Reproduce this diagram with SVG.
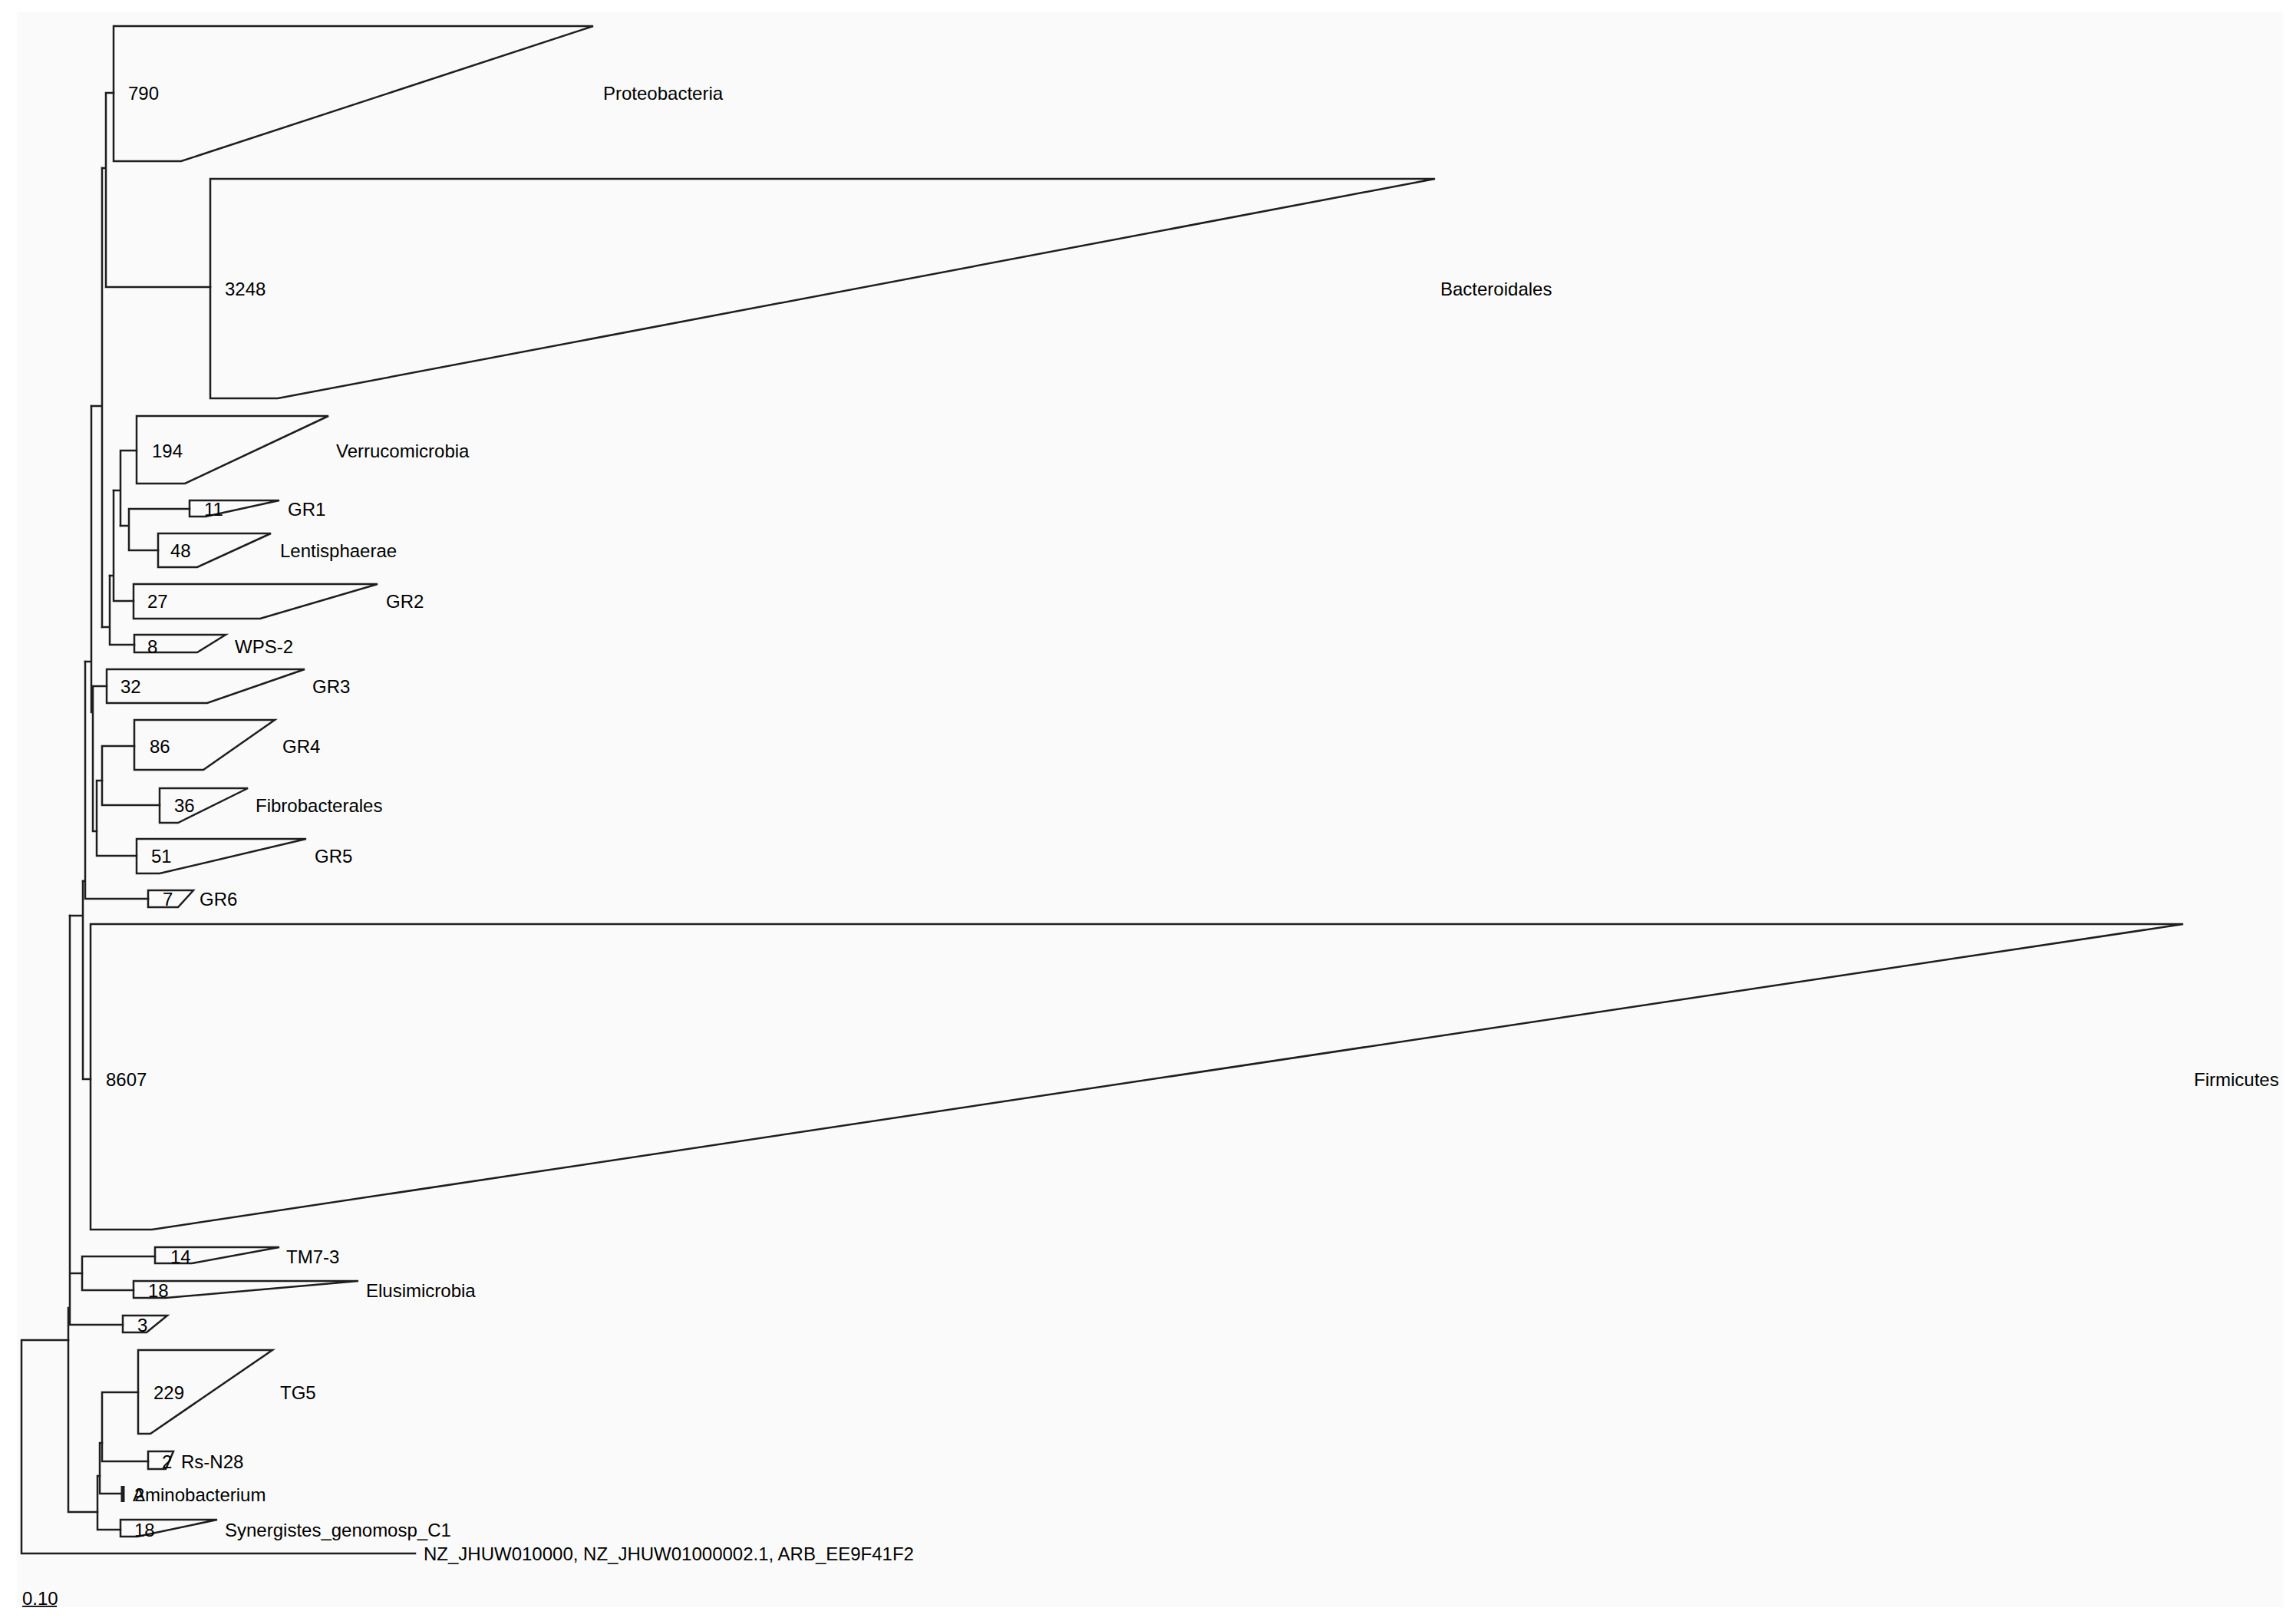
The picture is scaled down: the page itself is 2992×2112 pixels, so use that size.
<svg xmlns="http://www.w3.org/2000/svg" width="2992" height="2112" viewBox="0 0 2992 2112">
<style>
.bg{fill:#fafafa}
.ln{fill:none;stroke:#1e1e1e;stroke-width:2.5;stroke-linecap:square}
.cl{fill:none;stroke:#1e1e1e;stroke-width:2.5;stroke-linejoin:miter}
text{font-family:"Liberation Sans",Arial,Helvetica,sans-serif;font-size:24px;fill:#000}
</style>
<rect x="0" y="0" width="2992" height="2112" fill="#ffffff"/>
<rect class="bg" x="22" y="16" width="2953" height="2078"/>
<g id="connectors">
<path class="ln" d="M28,1746 V2024 M28,1746 H89 M28,2024 H541"/>
<path class="ln" d="M89,1704 V1970 M89,1970 H127"/>
<path class="ln" d="M91,1193 V1726 M91,1726 H160 M91,1659 H107"/>
<path class="ln" d="M107,1637 V1681 M107,1637 H202 M107,1681 H174"/>
<path class="ln" d="M91,1193 H108 M108,1148 V1406 M108,1406 H118"/>
<path class="ln" d="M108,1148 H111 M111,862 V1171 M111,1171 H193"/>
<path class="ln" d="M111,862 H119 M119,529 V928"/>
<path class="ln" d="M121,894 V1083 M121,894 H139 M121,1083 H126"/>
<path class="ln" d="M126,1017 V1115 M126,1115 H178 M126,1017 H133"/>
<path class="ln" d="M133,972 V1049 M133,972 H175 M133,1049 H208"/>
<path class="ln" d="M119,529 H133 M133,219 V817"/>
<path class="ln" d="M133,219 H138 M138,121 V374 M138,121 H148 M138,374 H274"/>
<path class="ln" d="M133,817 H143 M143,750 V840 M143,840 H175"/>
<path class="ln" d="M143,750 H148 M148,639 V783 M148,783 H174"/>
<path class="ln" d="M148,639 H157 M157,587 V685 M157,587 H178"/>
<path class="ln" d="M157,685 H168 M168,663 V717 M168,663 H247 M168,717 H206"/>
<path class="ln" d="M127,1923 V1993 M127,1993 H157 M127,1923 H130"/>
<path class="ln" d="M130,1880 V1946 M130,1946 H160 M130,1880 H133"/>
<path class="ln" d="M133,1814 V1904 M133,1814 H180 M133,1904 H193"/>
</g>
<g id="proteobacteria">
<polygon class="cl" points="148,34 773,34 236,210 148,210"/>
<text x="167" y="130">790</text>
<text x="786" y="130">Proteobacteria</text>
</g>
<g id="bacteroidales">
<polygon class="cl" points="274,233 1870,233 362,519 274,519"/>
<text x="293" y="385">3248</text>
<text x="1877" y="385">Bacteroidales</text>
</g>
<g id="verrucomicrobia">
<polygon class="cl" points="178,542 428,542 241,630 178,630"/>
<text x="198" y="596">194</text>
<text x="438" y="596">Verrucomicrobia</text>
</g>
<g id="gr1">
<polygon class="cl" points="247,652 364,652 268,673 247,673"/>
<text x="266" y="672">11</text>
<text x="375" y="672">GR1</text>
</g>
<g id="lentisphaerae">
<polygon class="cl" points="206,695 353,695 257,739 206,739"/>
<text x="222" y="726">48</text>
<text x="365" y="726">Lentisphaerae</text>
</g>
<g id="gr2">
<polygon class="cl" points="174,761 492,761 339,806 174,806"/>
<text x="192" y="792">27</text>
<text x="503" y="792">GR2</text>
</g>
<g id="wps2">
<polygon class="cl" points="175,827 294,827 257,850 175,850"/>
<text x="192" y="851">8</text>
<text x="306" y="851">WPS-2</text>
</g>
<g id="gr3">
<polygon class="cl" points="139,872 397,872 270,916 139,916"/>
<text x="157" y="903">32</text>
<text x="407" y="903">GR3</text>
</g>
<g id="gr4">
<polygon class="cl" points="175,938 358,938 265,1003 175,1003"/>
<text x="195" y="981">86</text>
<text x="368" y="981">GR4</text>
</g>
<g id="fibrobacterales">
<polygon class="cl" points="208,1027 323,1027 232,1072 208,1072"/>
<text x="227" y="1058">36</text>
<text x="333" y="1058">Fibrobacterales</text>
</g>
<g id="gr5">
<polygon class="cl" points="178,1093 399,1093 208,1138 178,1138"/>
<text x="197" y="1124">51</text>
<text x="410" y="1124">GR5</text>
</g>
<g id="gr6">
<polygon class="cl" points="193,1160 252,1160 232,1182 193,1182"/>
<text x="212" y="1180">7</text>
<text x="260" y="1180">GR6</text>
</g>
<g id="firmicutes">
<polygon class="cl" points="118,1204 2845,1204 198,1602 118,1602"/>
<text x="138" y="1415">8607</text>
<text x="2859" y="1415">Firmicutes</text>
</g>
<g id="tm7-3">
<polygon class="cl" points="202,1625 364,1625 250,1646 202,1646"/>
<text x="222" y="1646">14</text>
<text x="373" y="1646">TM7-3</text>
</g>
<g id="elusimicrobia">
<polygon class="cl" points="174,1669 467,1669 216,1691 174,1691"/>
<text x="193" y="1690">18</text>
<text x="477" y="1690">Elusimicrobia</text>
</g>
<g id="clade3">
<polygon class="cl" points="160,1714 218,1714 191,1736 160,1736"/>
<text x="179" y="1735">3</text>
</g>
<g id="tg5">
<polygon class="cl" points="180,1759 355,1759 196,1868 180,1868"/>
<text x="200" y="1823">229</text>
<text x="365" y="1823">TG5</text>
</g>
<g id="rs-n28">
<polygon class="cl" points="193,1891 226,1891 216,1914 193,1914"/>
<text x="211" y="1913">2</text>
<text x="236" y="1913">Rs-N28</text>
</g>
<g id="aminobacterium">
<line x1="160" y1="1936" x2="160" y2="1957" stroke="#1e1e1e" stroke-width="5"/>
<text x="175" y="1956">2</text>
<text x="173" y="1956">Aminobacterium</text>
</g>
<g id="synergistes">
<polygon class="cl" points="157,1980 283,1980 179,2002 157,2002"/>
<text x="175" y="2002">18</text>
<text x="293" y="2002">Synergistes_genomosp_C1</text>
</g>
<g id="nz-leaf">
<text x="552" y="2033">NZ_JHUW010000, NZ_JHUW01000002.1, ARB_EE9F41F2</text>
</g>
<g id="scale">
<text x="29" y="2091">0.10</text>
<line x1="29" y1="2093" x2="74" y2="2093" stroke="#1e1e1e" stroke-width="2"/>
</g>
</svg>
